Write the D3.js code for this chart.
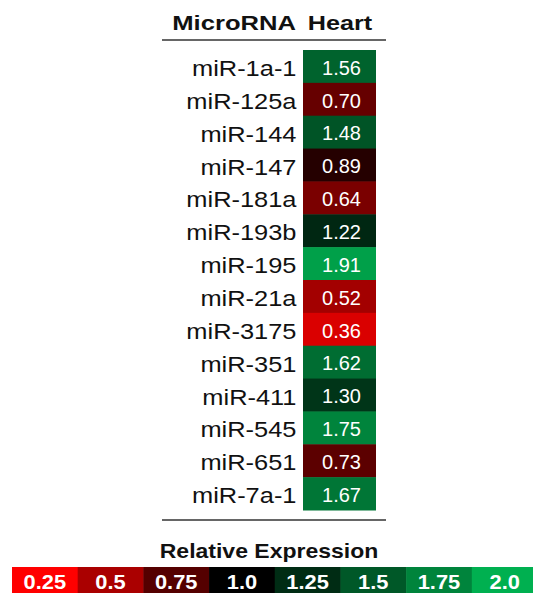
<!DOCTYPE html>
<html>
<head>
<meta charset="utf-8">
<script src="https://cdn.jsdelivr.net/npm/d3@7"></script>
<style>
  html, body { margin: 0; padding: 0; background: #fff; }
  svg { display: block; }
  text { font-family: "Liberation Sans", Arial, sans-serif; }
</style>
</head>
<body>
<svg id="chart" width="533" height="593"></svg>
<script>
const microRNAs = ["miR-1a-1","miR-125a","miR-144","miR-147","miR-181a","miR-193b","miR-195","miR-21a","miR-3175","miR-351","miR-411","miR-545","miR-651","miR-7a-1"];
const heartValues = [1.56,0.70,1.48,0.89,0.64,1.22,1.91,0.52,0.36,1.62,1.30,1.75,0.73,1.67];
const legendValues = [0.25,0.5,0.75,1.0,1.25,1.5,1.75,2.0];
const legendLabels = ["0.25","0.5","0.75","1.0","1.25","1.5","1.75","2.0"];

const svg = d3.select("#chart");

const color = d3.scaleLinear()
  .domain([0.25, 1.0, 2.0])
  .range(["#ff0000", "#000000", "#00b050"])
  .interpolate(d3.interpolateRgb);

const y = d3.scaleBand().domain(microRNAs).range([50, 510]).padding(0);
const x = d3.scaleBand().domain(["Heart"]).range([303, 376]);

function place(sel, tx, ty, sx) {
  return sel.attr("transform", (d, i) => `translate(${typeof tx === "function" ? tx(d, i) : tx},${typeof ty === "function" ? ty(d, i) : ty}) scale(${sx},1)`);
}

// Header
place(svg.append("text").attr("text-anchor", "end").attr("font-weight", "bold").attr("font-size", 21).attr("fill", "#111").text("MicroRNA"), 296, 30, 1.22);
place(svg.append("text").attr("text-anchor", "middle").attr("font-weight", "bold").attr("font-size", 21).attr("fill", "#111").text("Heart"), x("Heart") + x.bandwidth() / 2 + 0.5, 30, 1.2);

svg.append("line").attr("x1", 162).attr("x2", 386).attr("y1", 40).attr("y2", 40).attr("stroke", "#333").attr("stroke-width", 1.6);
svg.append("line").attr("x1", 162).attr("x2", 386).attr("y1", 520).attr("y2", 520).attr("stroke", "#333").attr("stroke-width", 1.6);

const rows = microRNAs.map((m, i) => ({ name: m, value: heartValues[i] }));

// Row labels
place(svg.selectAll("text.rowlabel").data(rows).enter().append("text")
  .attr("class", "rowlabel").attr("text-anchor", "end").attr("font-size", 22.5).attr("fill", "#111")
  .text(d => d.name), 296.5, d => y(d.name) + y.bandwidth() / 2 + 9.5, 1.13);

// Cells
svg.selectAll("rect.cell").data(rows).enter().append("rect")
  .attr("class", "cell")
  .attr("x", x("Heart")).attr("width", x.bandwidth())
  .attr("y", d => y(d.name)).attr("height", y.bandwidth() + 0.5)
  .attr("fill", d => color(d.value));

place(svg.selectAll("text.cellval").data(rows).enter().append("text")
  .attr("class", "cellval").attr("text-anchor", "middle").attr("font-size", 20).attr("fill", "#fff")
  .text(d => d.value.toFixed(2)), x("Heart") + x.bandwidth() / 2 + 2, d => y(d.name) + y.bandwidth() / 2 + 8.3, 1.0);

// Legend
place(svg.append("text").attr("text-anchor", "middle").attr("font-weight", "bold").attr("font-size", 20).attr("fill", "#111").text("Relative Expression"), 269, 558, 1.15);

const lx = d3.scaleBand().domain(legendLabels).range([12, 537.5]);
svg.selectAll("rect.leg").data(legendValues).enter().append("rect")
  .attr("class", "leg")
  .attr("x", (d, i) => lx(legendLabels[i])).attr("width", lx.bandwidth() + 0.5)
  .attr("y", 567).attr("height", 30)
  .attr("fill", d => color(d));

place(svg.selectAll("text.leglabel").data(legendLabels).enter().append("text")
  .attr("class", "leglabel").attr("text-anchor", "middle").attr("font-weight", "bold").attr("font-size", 21).attr("fill", "#fff")
  .text(d => d), d => lx(d) + lx.bandwidth() / 2, 589, 1.04);
</script>
</body>
</html>
